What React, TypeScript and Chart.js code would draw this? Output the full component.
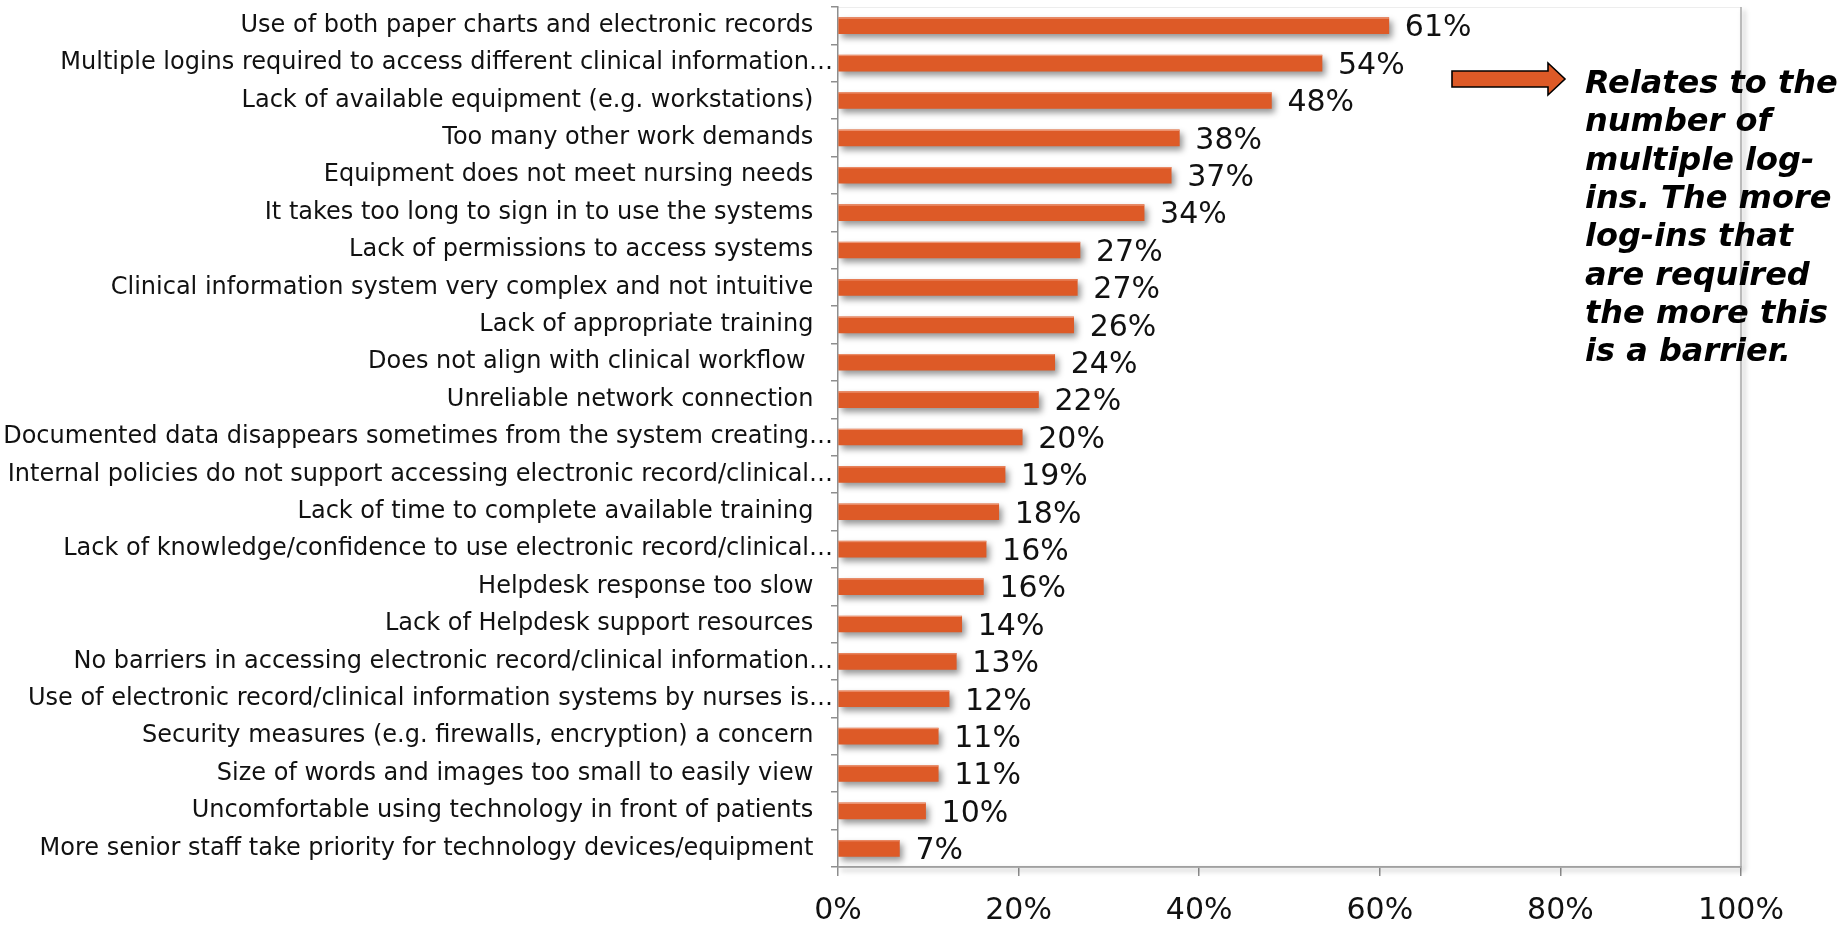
import React, { useEffect, useRef } from "react";
import { Chart, registerables } from "chart.js";

Chart.register(...registerables);

const categories: string[] = [
  "Use of both paper charts and electronic records",
  "Multiple logins required to access different clinical information…",
  "Lack of available equipment (e.g. workstations)",
  "Too many other work demands",
  "Equipment does not meet nursing needs",
  "It takes too long to sign in to use the systems",
  "Lack of permissions to access systems",
  "Clinical information system very complex and not intuitive",
  "Lack of appropriate training",
  "Does not align with clinical workflow ",
  "Unreliable network connection",
  "Documented data disappears sometimes from the system creating…",
  "Internal policies do not support accessing electronic record/clinical…",
  "Lack of time to complete available training",
  "Lack of knowledge/confidence to use electronic record/clinical…",
  "Helpdesk response too slow",
  "Lack of Helpdesk support resources",
  "No barriers in accessing electronic record/clinical information…",
  "Use of electronic record/clinical information systems by nurses is…",
  "Security measures (e.g. firewalls, encryption) a concern",
  "Size of words and images too small to easily view",
  "Uncomfortable using technology in front of patients",
  "More senior staff take priority for technology devices/equipment",
];

const values: number[] = [
  61, 53.6, 48, 37.8, 36.9, 33.9, 26.8, 26.5, 26.1, 24, 22.2, 20.4, 18.5, 17.8,
  16.4, 16.1, 13.7, 13.1, 12.3, 11.1, 11.1, 9.7, 6.8,
];

const xMin = 0;
const xMax = 100;
const xStep = 20;

const noteLines: string[] = [
  "Relates to the",
  "number of",
  "multiple log-",
  "ins. The more",
  "log-ins that",
  "are required",
  "the more this",
  "is a barrier.",
];

const W = 1846;
const H = 927;
const BAR = "#DD5A27";
const AXIS = "#8e8e8e";
const FONT = "'DejaVu Sans', Verdana, sans-serif";

const framePlugin = {
  id: "frame",
  beforeDatasetsDraw(chart: any) {
    const { ctx, chartArea: a } = chart;
    ctx.save();
    ctx.strokeStyle = "rgba(0,0,0,0.07)";
    ctx.lineWidth = 1;
    ctx.beginPath();
    ctx.moveTo(a.left, a.top + 0.5);
    ctx.lineTo(a.right, a.top + 0.5);
    ctx.stroke();
    ctx.shadowColor = "rgba(0,0,0,0.35)";
    ctx.shadowBlur = 5;
    ctx.shadowOffsetX = 3;
    ctx.shadowOffsetY = 3;
    ctx.strokeStyle = "#a8a8a8";
    ctx.lineWidth = 1.5;
    ctx.beginPath();
    ctx.moveTo(a.right, a.top);
    ctx.lineTo(a.right, a.bottom);
    ctx.lineTo(a.left, a.bottom);
    ctx.stroke();
    ctx.restore();
  },
};

const barShadowPlugin = {
  id: "barShadow",
  beforeDatasetDraw(chart: any) {
    const ctx = chart.ctx;
    ctx.save();
    ctx.shadowColor = "rgba(0,0,0,0.42)";
    ctx.shadowBlur = 6;
    ctx.shadowOffsetX = 3;
    ctx.shadowOffsetY = 4;
  },
  afterDatasetDraw(chart: any) {
    chart.ctx.restore();
  },
};

const valueLabelPlugin = {
  id: "valueLabels",
  afterDatasetsDraw(chart: any) {
    const { ctx } = chart;
    const meta = chart.getDatasetMeta(0);
    ctx.save();
    meta.data.forEach((bar: any, i: number) => {
      const top = bar.y - bar.height / 2;
      ctx.fillStyle = "rgba(240,160,130,0.9)";
      ctx.fillRect(bar.base, top, bar.x - bar.base, 1);
      ctx.fillStyle = "#111";
      ctx.font = `30px ${FONT}`;
      ctx.textAlign = "left";
      ctx.textBaseline = "middle";
      ctx.fillText(Math.round(values[i]) + "%", bar.x + 16, bar.y + 3);
    });
    ctx.restore();
  },
};

const notePlugin = {
  id: "note",
  afterDraw(chart: any) {
    const { ctx } = chart;
    ctx.save();
    ctx.beginPath();
    ctx.moveTo(1452, 71);
    ctx.lineTo(1548, 71);
    ctx.lineTo(1548, 63);
    ctx.lineTo(1565, 79);
    ctx.lineTo(1548, 95);
    ctx.lineTo(1548, 87);
    ctx.lineTo(1452, 87);
    ctx.closePath();
    ctx.fillStyle = BAR;
    ctx.fill();
    ctx.lineWidth = 1.6;
    ctx.strokeStyle = "#000";
    ctx.stroke();
    ctx.fillStyle = "#000";
    ctx.font = `italic bold 32px ${FONT}`;
    ctx.textAlign = "left";
    ctx.textBaseline = "alphabetic";
    noteLines.forEach((line, i) => {
      ctx.fillText(line, 1585, 93 + i * 38.3);
    });
    ctx.restore();
  },
};

export default function App() {
  const ref = useRef<HTMLCanvasElement | null>(null);

  useEffect(() => {
    if (!ref.current) return;
    const chart = new Chart(ref.current, {
      type: "bar",
      data: {
        labels: categories,
        datasets: [
          {
            data: values,
            backgroundColor: BAR,
            borderWidth: 0,
            barThickness: 16,
          },
        ],
      },
      options: {
        indexAxis: "y",
        responsive: false,
        animation: false,
        devicePixelRatio: 1,
        layout: { padding: { top: 7, right: 105, left: 0, bottom: 0 } },
        plugins: {
          legend: { display: false },
          tooltip: { enabled: false },
          title: { display: false },
        },
        scales: {
          x: {
            type: "linear",
            min: xMin,
            max: xMax,
            ticks: {
              stepSize: xStep,
              color: "#111",
              font: { family: FONT, size: 30 },
              padding: 17,
              callback: (v: any) => v + "%",
            },
            grid: {
              drawOnChartArea: false,
              drawTicks: true,
              tickLength: 9,
              color: AXIS,
              lineWidth: 1.5,
            },
            border: { display: true, color: AXIS, width: 1.5 },
            afterFit: (s: any) => {
              s.height = H - 867;
              s.paddingLeft = 0;
              s.paddingRight = 0;
            },
          },
          y: {
            type: "category",
            ticks: {
              autoSkip: false,
              color: "#111",
              font: { family: FONT, size: 24 },
              padding: -2,
              callback: function (this: any, v: any) {
                const l = this.getLabelForValue(v) as string;
                return l.endsWith("…") ? l : l + " \u2002";
              },
            },
            grid: {
              drawOnChartArea: false,
              drawTicks: true,
              tickLength: 7,
              color: AXIS,
              lineWidth: 1.5,
            },
            border: { display: true, color: AXIS, width: 1.5 },
            afterFit: (s: any) => {
              s.width = 838;
              s.paddingTop = 0;
              s.paddingBottom = 0;
            },
          },
        },
      },
      plugins: [framePlugin, barShadowPlugin, valueLabelPlugin, notePlugin],
    });
    return () => chart.destroy();
  }, []);

  return (
    <div style={{ position: "absolute", left: 0, top: 0, width: W, height: H, background: "#fff" }}>
      <canvas ref={ref} width={W} height={H} style={{ width: W, height: H, display: "block" }} />
    </div>
  );
}
